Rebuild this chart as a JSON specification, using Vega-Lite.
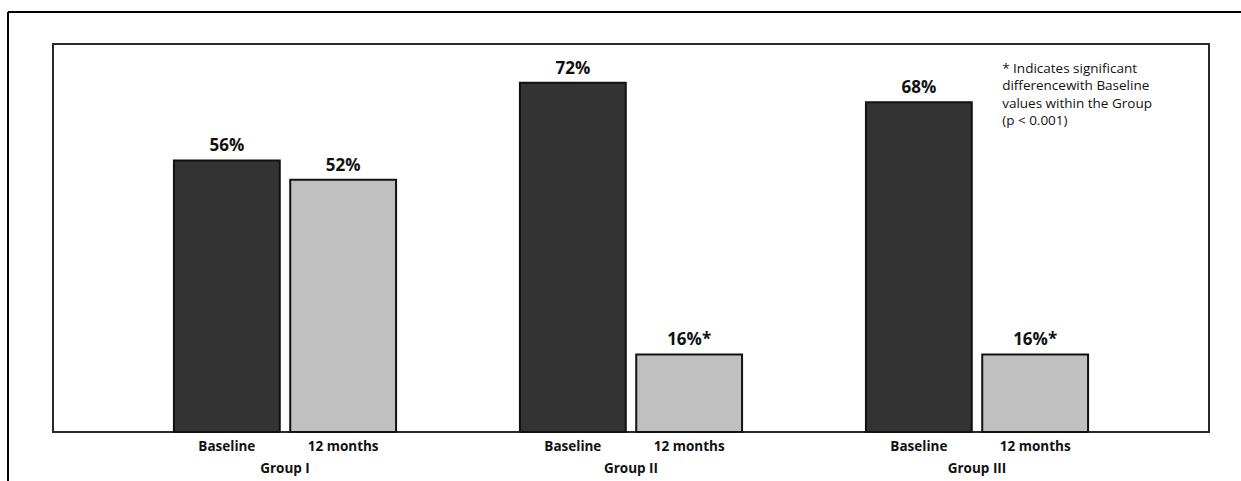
{
  "$schema": "https://vega.github.io/schema/vega-lite/v6.json",
  "autosize": {"type": "none"},
  "padding": {"left": 53, "top": 44, "right": 32, "bottom": 49},
  "width": 1156,
  "height": 388,
  "background": "white",
  "config": {
    "view": {"stroke": "#2a2a2a", "strokeWidth": 2},
    "font": "Open Sans"
  },
  "data": {
    "values": [
      {"group": "Group I", "time": "Baseline", "value": 56, "label": "56%"},
      {"group": "Group I", "time": "12 months", "value": 52, "label": "52%"},
      {"group": "Group II", "time": "Baseline", "value": 72, "label": "72%"},
      {"group": "Group II", "time": "12 months", "value": 16, "label": "16%*"},
      {"group": "Group III", "time": "Baseline", "value": 68, "label": "68%"},
      {"group": "Group III", "time": "12 months", "value": 16, "label": "16%*"}
    ]
  },
  "layer": [
    {
      "layer": [
        {
          "mark": {"type": "bar", "stroke": "#111", "strokeWidth": 2},
          "encoding": {
            "y": {"field": "value", "type": "quantitative", "scale": {"domain": [0, 80]}, "axis": null},
            "fill": {"field": "time", "type": "nominal", "scale": {"domain": ["Baseline", "12 months"], "range": ["#333333", "#c0c0c0"]}, "legend": null}
          }
        },
        {
          "mark": {"type": "text", "baseline": "alphabetic", "dy": -9, "fontSize": 17, "fontWeight": "bold", "color": "#111"},
          "encoding": {
            "y": {"field": "value", "type": "quantitative"},
            "text": {"field": "label"}
          }
        },
        {
          "mark": {"type": "text", "baseline": "top", "dy": 8, "fontSize": 13.5, "fontWeight": "bold", "color": "#111"},
          "encoding": {
            "y": {"datum": 0, "type": "quantitative"},
            "text": {"field": "time"}
          }
        },
        {
          "data": {"values": [{"group": "Group III", "time": "12 months", "note": ["* Indicates significant", "differencewith Baseline", "values within the Group", "  (p < 0.001)"]}]},
          "mark": {"type": "text", "align": "left", "baseline": "top", "dx": -33, "fontSize": 13.5, "lineHeight": 17.5, "color": "#111"},
          "encoding": {
            "y": {"datum": 76.3, "type": "quantitative"},
            "text": {"field": "note"}
          }
        }
      ],
      "encoding": {
        "x": {
          "field": "group", "type": "nominal",
          "sort": ["Group I", "Group II", "Group III"],
          "scale": {"paddingInner": 0.358, "paddingOuter": 0.3495},
          "axis": {"title": null, "ticks": false, "domain": false, "labelAngle": 0, "labelPadding": 29, "labelFontSize": 13.5, "labelFontWeight": "bold", "labelColor": "#111", "labelFont": "Open Sans"}
        },
        "xOffset": {
          "field": "time", "type": "nominal",
          "sort": ["Baseline", "12 months"],
          "scale": {"domain": ["Baseline", "12 months"], "paddingInner": 0.09, "paddingOuter": 0}
        }
      }
    },
    {
      "data": {"values": [{}]},
      "mark": {"type": "rule", "stroke": "black", "strokeWidth": 2},
      "encoding": {"x": {"value": -45}, "x2": {"value": 1200}, "y": {"value": -32}}
    },
    {
      "data": {"values": [{}]},
      "mark": {"type": "rule", "stroke": "black", "strokeWidth": 2},
      "encoding": {"x": {"value": -45}, "y": {"value": -32}, "y2": {"value": 450}}
    }
  ]
}
